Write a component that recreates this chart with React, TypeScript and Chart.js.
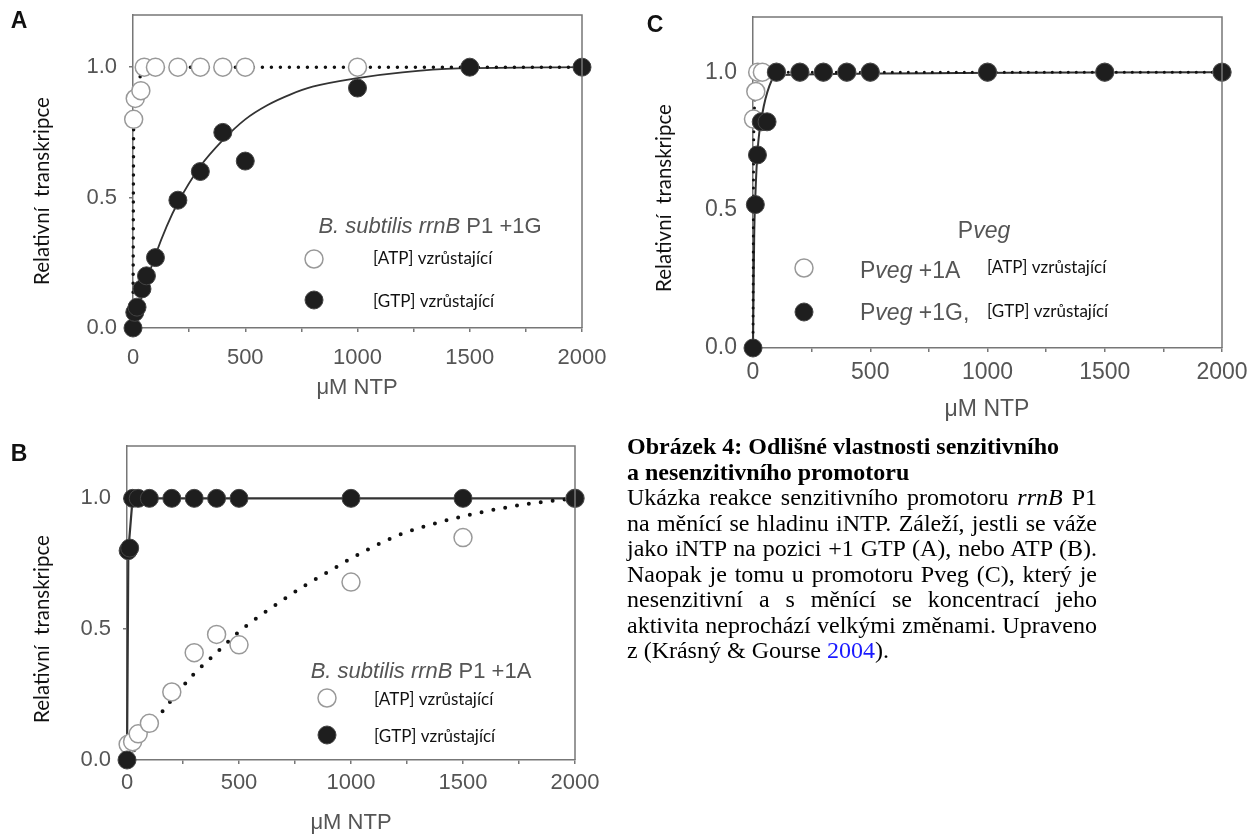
import React, { useEffect, useRef } from 'react';
import { Chart, registerables } from 'chart.js';

Chart.register(...registerables);

// ---------- data ----------
const X_TICKS = [0, 250, 500, 750, 1000, 1250, 1500, 1750, 2000];
const X_LABELS = [0, 500, 1000, 1500, 2000];
const Y_TICKS = [0, 0.5, 1.0];

// Panel A: B. subtilis rrnB P1 +1G
const aAtpX = [3, 10, 35, 50, 100, 200, 300, 400, 500, 1000];
const aAtpY = [0.8, 0.88, 0.91, 1.0, 1.0, 1.0, 1.0, 1.0, 1.0, 1.0];
const aGtpX = [0, 8, 18, 40, 60, 100, 200, 300, 400, 500, 1000, 1500, 2000];
const aGtpY = [0, 0.06, 0.08, 0.15, 0.2, 0.27, 0.49, 0.6, 0.75, 0.64, 0.92, 1.0, 1.0];
const aAtpFitX = [0, 3, 10, 30, 60, 120, 2000];
const aAtpFitY = [0, 0.78, 0.9, 0.96, 0.99, 1.0, 1.0];
const aGtpFitX = [0, 25, 50, 100, 150, 200, 300, 400, 500, 600, 700, 800, 1000, 1200, 1450, 2000];
const aGtpFitY = [0, 0.08, 0.15, 0.28, 0.39, 0.48, 0.62, 0.72, 0.8, 0.855, 0.895, 0.925, 0.958, 0.98, 0.995, 1.0];

// Panel B: B. subtilis rrnB P1 +1A
const bAtpX = [5, 25, 50, 100, 200, 300, 400, 500, 1000, 1500, 2000];
const bAtpY = [0.06, 0.07, 0.1, 0.14, 0.26, 0.41, 0.48, 0.44, 0.68, 0.85, 1.0];
const bGtpX = [0, 5, 12, 25, 50, 100, 200, 300, 400, 500, 1000, 1500, 2000];
const bGtpY = [0, 0.8, 0.81, 1.0, 1.0, 1.0, 1.0, 1.0, 1.0, 1.0, 1.0, 1.0, 1.0];
const bAtpFitX = [0, 100, 200, 300, 400, 500, 600, 700, 800, 900, 1000, 1200, 1400, 1600, 1800, 2000];
const bAtpFitY = [0, 0.12, 0.23, 0.33, 0.41, 0.49, 0.555, 0.614, 0.67, 0.72, 0.77, 0.855, 0.91, 0.95, 0.98, 1.0];
const bGtpFitX = [0, 6, 25, 2000];
const bGtpFitY = [0, 0.8, 1.0, 1.0];

// Panel C: Pveg
const cAtpX = [2, 12, 20, 40, 100, 200, 300, 400, 500, 1000, 1500, 2000];
const cAtpY = [0.83, 0.93, 1.0, 1.0, 1.0, 1.0, 1.0, 1.0, 1.0, 1.0, 1.0, 1.0];
const cGtpX = [0, 10, 19, 35, 60, 100, 200, 300, 400, 500, 1000, 1500, 2000];
const cGtpY = [0, 0.52, 0.7, 0.82, 0.82, 1.0, 1.0, 1.0, 1.0, 1.0, 1.0, 1.0, 1.0];
const cAtpFitX = [0, 2, 5, 15, 40, 2000];
const cAtpFitY = [0, 0.6, 0.83, 0.95, 1.0, 1.0];
const cGtpFitX = [0, 5, 10, 20, 40, 70, 100, 2000];
const cGtpFitY = [0, 0.4, 0.55, 0.72, 0.85, 0.95, 0.99, 1.0];

// ---------- helpers ----------
const pts = (xs: number[], ys: number[]) => xs.map((x, i) => ({ x, y: ys[i] }));

const SANS = '"Liberation Sans", Arial, sans-serif';
const HUMAN = 'Lato, "Open Sans", sans-serif';

type Part = { t: string; italic?: boolean };
type OText = {
  parts: Part[];
  x: number;
  y: number;
  size: number;
  family: string;
  color: string;
  bold?: boolean;
  align: 'left' | 'center';
  rotate?: boolean;
};
type OMarker = { x: number; y: number; filled: boolean };

type PanelSpec = {
  left: number;
  top: number;
  w: number;
  h: number;
  padTop: number;
  padRight: number;
  yAxisW: number;
  xAxisH: number;
  xTickPad: number;
  yTickPad: number;
  tickSize: number;
  radius: number;
  atp: { x: number; y: number }[];
  gtp: { x: number; y: number }[];
  atpFit: { x: number; y: number }[];
  gtpFit: { x: number; y: number }[];
  atpSmooth: boolean;
  gtpSmooth: boolean;
  dotW: number;
  dotGap: number;
  solidW: number;
  texts: OText[];
  markers: OMarker[];
};

function drawText(ctx: CanvasRenderingContext2D, o: OText, ox: number, oy: number) {
  ctx.save();
  ctx.translate(o.x - ox, o.y - oy);
  if (o.rotate) ctx.rotate(-Math.PI / 2);
  ctx.textBaseline = 'middle';
  ctx.textAlign = 'left';
  ctx.fillStyle = o.color;
  const fontFor = (p: Part) => `${p.italic ? 'italic ' : ''}${o.bold ? 'bold ' : ''}${o.size}px ${o.family}`;
  let total = 0;
  for (const p of o.parts) {
    ctx.font = fontFor(p);
    total += ctx.measureText(p.t).width;
  }
  let cx = o.align === 'center' ? -total / 2 : 0;
  for (const p of o.parts) {
    ctx.font = fontFor(p);
    ctx.fillText(p.t, cx, 0);
    cx += ctx.measureText(p.t).width;
  }
  ctx.restore();
}

function drawMarker(ctx: CanvasRenderingContext2D, m: OMarker, r: number, ox: number, oy: number) {
  ctx.save();
  ctx.beginPath();
  ctx.arc(m.x - ox, m.y - oy, r, 0, Math.PI * 2);
  if (m.filled) {
    ctx.fillStyle = '#1e1e1e';
    ctx.fill();
    ctx.lineWidth = 1;
    ctx.strokeStyle = '#444';
    ctx.stroke();
  } else {
    ctx.fillStyle = '#fff';
    ctx.fill();
    ctx.lineWidth = 1.5;
    ctx.strokeStyle = '#999';
    ctx.stroke();
  }
  ctx.restore();
}

function buildConfig(p: PanelSpec): any {
  const overlay = {
    id: 'overlay',
    afterDraw(chart: any) {
      const ctx: CanvasRenderingContext2D = chart.ctx;
      const a = chart.chartArea;
      ctx.save();
      ctx.strokeStyle = '#777';
      ctx.lineWidth = 1.5;
      ctx.beginPath();
      ctx.moveTo(a.left, a.top);
      ctx.lineTo(a.right, a.top);
      ctx.lineTo(a.right, a.bottom);
      ctx.stroke();
      ctx.restore();
      for (const m of p.markers) drawMarker(ctx, m, p.radius, p.left, p.top);
      for (const t of p.texts) drawText(ctx, t, p.left, p.top);
    },
  };
  return {
    type: 'scatter',
    data: {
      datasets: [
        {
          label: '[GTP] vzrůstající',
          data: p.gtp,
          showLine: false,
          pointRadius: p.radius,
          pointBackgroundColor: '#1e1e1e',
          pointBorderColor: '#444',
          pointBorderWidth: 1,
          clip: false,
        },
        {
          label: '[ATP] vzrůstající',
          data: p.atp,
          showLine: false,
          pointRadius: p.radius,
          pointBackgroundColor: '#ffffff',
          pointBorderColor: '#999',
          pointBorderWidth: 1.5,
          clip: false,
        },
        {
          label: 'ATP fit',
          data: p.atpFit,
          showLine: true,
          pointRadius: 0,
          borderColor: '#111',
          borderWidth: p.dotW,
          borderDash: [0, p.dotGap],
          borderCapStyle: 'round',
          cubicInterpolationMode: p.atpSmooth ? 'monotone' : 'default',
          tension: 0,
          clip: false,
        },
        {
          label: 'GTP fit',
          data: p.gtpFit,
          showLine: true,
          pointRadius: 0,
          borderColor: '#333',
          borderWidth: p.solidW,
          cubicInterpolationMode: p.gtpSmooth ? 'monotone' : 'default',
          tension: 0,
          clip: false,
        },
      ],
    },
    options: {
      animation: false,
      responsive: false,
      devicePixelRatio: 1,
      events: [],
      layout: { padding: { left: 0, top: p.padTop, right: p.padRight, bottom: 0 } },
      plugins: { legend: { display: false }, tooltip: { enabled: false } },
      scales: {
        x: {
          type: 'linear',
          position: 'bottom',
          min: 0,
          max: 2000,
          afterBuildTicks: (s: any) => {
            s.ticks = X_TICKS.map((v) => ({ value: v }));
          },
          afterFit: (s: any) => {
            s.height = p.xAxisH;
            s.paddingLeft = 0;
            s.paddingRight = 0;
          },
          ticks: {
            autoSkip: false,
            maxRotation: 0,
            padding: p.xTickPad,
            color: '#555',
            font: { family: SANS, size: p.tickSize },
            callback: (v: any) => (X_LABELS.includes(Number(v)) ? String(v) : ''),
          },
          grid: { drawOnChartArea: false, drawTicks: true, tickLength: 4, color: '#777', lineWidth: 1.5 },
          border: { display: true, color: '#777', width: 1.5 },
        },
        y: {
          type: 'linear',
          position: 'left',
          min: 0,
          max: 1.2,
          afterBuildTicks: (s: any) => {
            s.ticks = Y_TICKS.map((v) => ({ value: v }));
          },
          afterFit: (s: any) => {
            s.width = p.yAxisW;
            s.paddingTop = 0;
            s.paddingBottom = 0;
          },
          ticks: {
            padding: p.yTickPad,
            color: '#555',
            font: { family: SANS, size: p.tickSize },
            callback: (v: any) => Number(v).toFixed(1),
          },
          grid: { drawOnChartArea: false, drawTicks: true, tickLength: 4, color: '#777', lineWidth: 1.5 },
          border: { display: true, color: '#777', width: 1.5 },
        },
      },
    },
    plugins: [overlay],
  };
}

const yTitle = (x: number, y: number): OText => ({
  parts: [{ t: 'Relativní  transkripce' }],
  x,
  y,
  size: 20.5,
  family: HUMAN,
  color: '#111',
  align: 'center',
  rotate: true,
});
const xTitle = (x: number, y: number, size: number): OText => ({
  parts: [{ t: 'μM NTP' }],
  x,
  y,
  size,
  family: SANS,
  color: '#555',
  align: 'center',
});
const letter = (t: string, x: number, y: number): OText => ({
  parts: [{ t }],
  x,
  y,
  size: 23,
  family: SANS,
  color: '#111',
  bold: true,
  align: 'center',
});
const small = (t: string, x: number, y: number): OText => ({
  parts: [{ t }],
  x,
  y,
  size: 17,
  family: HUMAN,
  color: '#111',
  align: 'left',
});

const panelA: PanelSpec = {
  left: 0,
  top: 0,
  w: 615,
  h: 415,
  padTop: 15,
  padRight: 33,
  yAxisW: 133,
  xAxisH: 87,
  xTickPad: 13,
  yTickPad: 12,
  tickSize: 22,
  radius: 9,
  atp: pts(aAtpX, aAtpY),
  gtp: pts(aGtpX, aGtpY),
  atpFit: pts(aAtpFitX, aAtpFitY),
  gtpFit: pts(aGtpFitX, aGtpFitY),
  atpSmooth: true,
  gtpSmooth: true,
  dotW: 3.5,
  dotGap: 9,
  solidW: 1.8,
  texts: [
    letter('A', 19, 22),
    yTitle(42, 191),
    xTitle(357, 388, 22),
    {
      parts: [{ t: 'B. subtilis rrnB', italic: true }, { t: ' P1 +1G' }],
      x: 430,
      y: 227,
      size: 22,
      family: SANS,
      color: '#555',
      align: 'center',
    },
    small('[ATP] vzrůstající', 373, 259),
    small('[GTP] vzrůstající', 373, 302),
  ],
  markers: [
    { x: 314, y: 259, filled: false },
    { x: 314, y: 300, filled: true },
  ],
};

const panelB: PanelSpec = {
  left: 0,
  top: 420,
  w: 615,
  h: 420,
  padTop: 26,
  padRight: 40,
  yAxisW: 127,
  xAxisH: 80,
  xTickPad: 6,
  yTickPad: 12,
  tickSize: 22,
  radius: 9,
  atp: pts(bAtpX, bAtpY),
  gtp: pts(bGtpX, bGtpY),
  atpFit: pts(bAtpFitX, bAtpFitY),
  gtpFit: pts(bGtpFitX, bGtpFitY),
  atpSmooth: true,
  gtpSmooth: false,
  dotW: 4,
  dotGap: 12,
  solidW: 2.2,
  texts: [
    letter('B', 19, 455),
    yTitle(42, 629),
    xTitle(351, 823, 22),
    {
      parts: [{ t: 'B. subtilis rrnB', italic: true }, { t: ' P1 +1A' }],
      x: 421,
      y: 672,
      size: 22,
      family: SANS,
      color: '#555',
      align: 'center',
    },
    small('[ATP] vzrůstající', 374, 700),
    small('[GTP] vzrůstající', 374, 737),
  ],
  markers: [
    { x: 327, y: 698, filled: false },
    { x: 327, y: 735, filled: true },
  ],
};

const panelC: PanelSpec = {
  left: 620,
  top: 0,
  w: 628,
  h: 440,
  padTop: 17,
  padRight: 26,
  yAxisW: 133,
  xAxisH: 92,
  xTickPad: 7,
  yTickPad: 12,
  tickSize: 23,
  radius: 9,
  atp: pts(cAtpX, cAtpY),
  gtp: pts(cGtpX, cGtpY),
  atpFit: pts(cAtpFitX, cAtpFitY),
  gtpFit: pts(cGtpFitX, cGtpFitY),
  atpSmooth: true,
  gtpSmooth: true,
  dotW: 3,
  dotGap: 8,
  solidW: 2,
  texts: [
    letter('C', 655, 26),
    yTitle(664, 198),
    xTitle(987, 410, 23),
    {
      parts: [{ t: 'P' }, { t: 'veg', italic: true }],
      x: 984,
      y: 232,
      size: 23,
      family: SANS,
      color: '#555',
      align: 'center',
    },
    {
      parts: [{ t: 'P' }, { t: 'veg', italic: true }, { t: ' +1A' }],
      x: 860,
      y: 272,
      size: 23,
      family: SANS,
      color: '#555',
      align: 'left',
    },
    {
      parts: [{ t: 'P' }, { t: 'veg', italic: true }, { t: ' +1G,' }],
      x: 860,
      y: 314,
      size: 23,
      family: SANS,
      color: '#555',
      align: 'left',
    },
    small('[ATP] vzrůstající', 987, 268),
    small('[GTP] vzrůstající', 987, 312),
  ],
  markers: [
    { x: 804, y: 268, filled: false },
    { x: 804, y: 312, filled: true },
  ],
};

function Panel({ spec }: { spec: PanelSpec }) {
  const ref = useRef<HTMLCanvasElement>(null);
  useEffect(() => {
    const chart = new Chart(ref.current as HTMLCanvasElement, buildConfig(spec));
    return () => chart.destroy();
  }, [spec]);
  return (
    <canvas
      ref={ref}
      width={spec.w}
      height={spec.h}
      style={{ position: 'absolute', left: spec.left, top: spec.top, width: spec.w, height: spec.h, display: 'block' }}
    />
  );
}

const captionLines = [
  'na měnící se hladinu iNTP. Záleží, jestli se váže',
  'jako iNTP na pozici +1 GTP (A), nebo ATP (B).',
  'Naopak je tomu u promotoru Pveg (C), který je',
  'nesenzitivní a s měnící se koncentrací jeho',
  'aktivita neprochází velkými změnami. Upraveno',
];

function Caption() {
  const FS = 24;
  const LH = 25.5;
  const just: React.CSSProperties = { textAlign: 'justify', textAlignLast: 'justify', height: LH, whiteSpace: 'nowrap' };
  const plain: React.CSSProperties = { height: LH, whiteSpace: 'nowrap' };
  return (
    <div
      style={{
        position: 'absolute',
        left: 627,
        top: 434,
        width: 470,
        fontFamily: '"Liberation Serif", "Times New Roman", serif',
        fontSize: FS,
        lineHeight: `${LH}px`,
        color: '#000',
      }}
    >
      <div style={{ ...plain, fontWeight: 'bold' }}>Obrázek 4: Odlišné vlastnosti senzitivního</div>
      <div style={{ ...plain, fontWeight: 'bold' }}>a nesenzitivního promotoru</div>
      <div style={just}>
        Ukázka reakce senzitivního promotoru <i>rrnB</i> P1
      </div>
      {captionLines.map((l, i) => (
        <div key={i} style={just}>
          {l}
        </div>
      ))}
      <div style={plain}>
        z (Krásný &amp; Gourse <span style={{ color: '#1a1aff' }}>2004</span>).
      </div>
    </div>
  );
}

export default function App() {
  return (
    <div style={{ position: 'absolute', left: 0, top: 0, width: 1248, height: 840, overflow: 'hidden', background: '#fff' }}>
      <Panel spec={panelA} />
      <Panel spec={panelB} />
      <Panel spec={panelC} />
      <Caption />
    </div>
  );
}
